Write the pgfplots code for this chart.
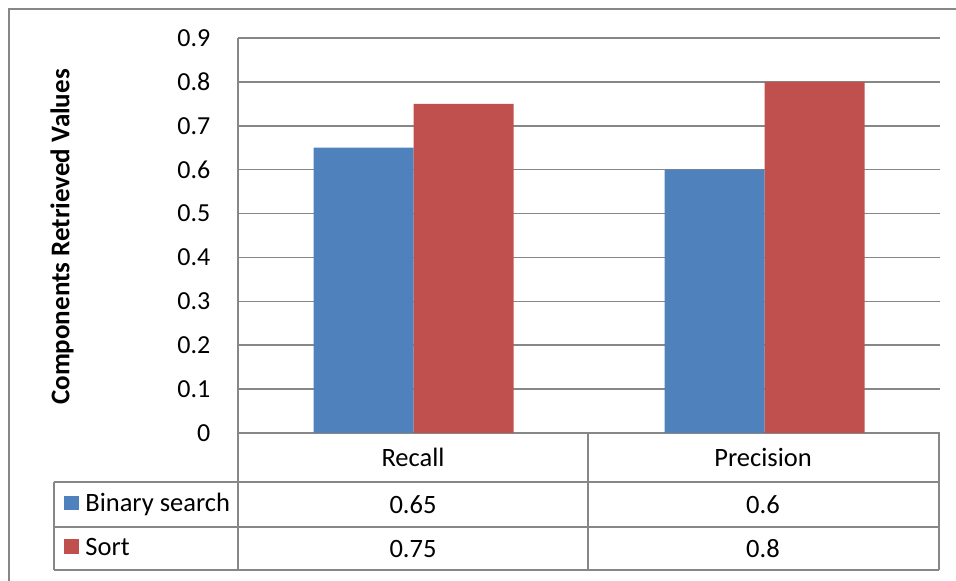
\documentclass[border=0pt]{standalone}
\usepackage{pgfplots}
\pgfplotsset{compat=1.18}
\usepackage{fontspec}
\setmainfont{Carlito}
\definecolor{barblue}{HTML}{4F81BD}
\definecolor{barred}{HTML}{C0504D}
\definecolor{gridgray}{HTML}{878787}
\begin{document}
\fontsize{13.25pt}{16pt}\selectfont
\begin{tikzpicture}
\begin{axis}[
  at={(0,0)}, anchor=south west,
  scale only axis, width=351pt, height=197.5pt,
  xmin=-0.5, xmax=1.5, ymin=0, ymax=0.9,
  ytick={0,0.1,0.2,0.3,0.4,0.5,0.6,0.7,0.8,0.9},
  yticklabel style={font=\fontsize{13pt}{16pt}\selectfont, anchor=east, xshift=-9.2pt,
    /pgf/number format/fixed, /pgf/number format/precision=1},
  /pgf/number format/assume math mode=true,
  xtick=\empty,
  axis x line*=bottom, axis y line*=left,
  axis line style={draw=gridgray, line width=0.8pt, -},
  ymajorgrids, grid style={draw=gridgray, line width=0.8pt},
  major tick length=0pt,
  ybar, bar width=50pt,
  clip=false,
]
\addplot[fill=barblue, draw=none, bar shift=-25pt] coordinates {(0,0.65) (1,0.6)};
\addplot[fill=barred, draw=none, bar shift=25pt] coordinates {(0,0.75) (1,0.8)};
\end{axis}
\begin{scope}[x=0.5pt,y=-0.5pt,shift={(-238,-433)}]
  \draw[gridgray, line width=0.8pt]
    (54,482) -- (939,482) (54,527) -- (939,527) (54,570) -- (939,570)
    (54,482) -- (54,570) (238,433) -- (238,570) (588,433) -- (588,570) (939,433) -- (939,570);
  \node at (413,457) {Recall};
  \node at (763,457) {Precision};
  \node at (413,505) {0.65};
  \node at (763,505) {0.6};
  \node at (413,549) {0.75};
  \node at (763,549) {0.8};
  \fill[barblue] (64,496) rectangle (79,510);
  \fill[barred] (64,539) rectangle (79,554);
  \node[anchor=west, inner sep=0pt] at (85,504) {Binary search};
  \node[anchor=west, inner sep=0pt] at (85,547) {Sort};
  \node[rotate=90, font=\bfseries\fontsize{13.5pt}{16pt}\selectfont] at (62,237) {Components Retrieved Values};
  \draw[gridgray, line width=0.8pt] (9,581) -- (9,9) -- (956,9);
  \pgfresetboundingbox
  \path[use as bounding box] (0,0) rectangle (956,581);
\end{scope}
\end{tikzpicture}
\end{document}
